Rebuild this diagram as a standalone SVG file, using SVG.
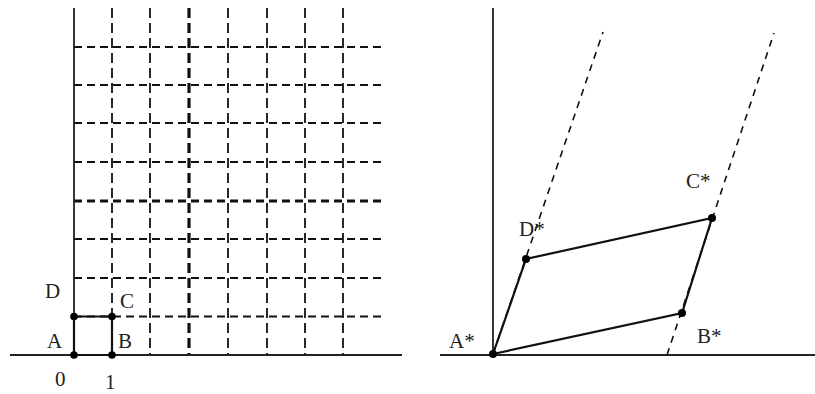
<svg xmlns="http://www.w3.org/2000/svg" width="815" height="394" viewBox="0 0 815 394">
<style>
.axis{stroke:#222;stroke-width:1.8;fill:none}
.gh{stroke:#111;stroke-width:1.8;stroke-dasharray:8,5;fill:none}
.gv{stroke:#111;stroke-width:1.8;stroke-dasharray:10,5;fill:none}
.gs{stroke:#111;stroke-width:1.6;stroke-dasharray:7,6;fill:none}
.thick{stroke-width:3.2}
.solid{stroke:#111;stroke-width:2.2;fill:none}
.dot{fill:#000}
.lbl{font-family:"Liberation Serif","Times New Roman",serif;font-size:21px;fill:#222}
</style>
<rect width="815" height="394" fill="#fff"/>
<g id="connectors">
  <path class="gh" d="M74 47H383M74 85H383M74 123H383M74 162H383M74 239H383M74 278H383M74 316.5H383"/>
  <path class="gh thick" d="M74 201H383"/>
  <path class="gv" d="M112 8V355M150 8V355M228 8V355M267 8V355M305 8V355M343 8V355"/>
  <path class="gv thick" d="M189 8V355"/>
  <path class="gs" d="M493 354L603 32M667 355L774 33"/>
</g>
<g id="axes-left">
  <path class="axis" d="M10 355H402M74 8V355"/>
</g>
<g id="axes-right">
  <path class="axis" d="M440 355H815M493 8V355"/>
</g>
<g id="square">
  <path class="solid" d="M74 355H112V316.5H74Z" stroke-width="2.6"/>
  <circle class="dot" cx="74" cy="355" r="3.8"/>
  <circle class="dot" cx="112" cy="355" r="3.8"/>
  <circle class="dot" cx="112" cy="316.5" r="3.8"/>
  <circle class="dot" cx="74" cy="316.5" r="3.8"/>
</g>
<g id="parallelogram">
  <path class="solid" d="M493 354L682 313L712 218L526 259Z"/>
  <circle class="dot" cx="493" cy="354" r="4"/>
  <circle class="dot" cx="682" cy="313" r="4"/>
  <circle class="dot" cx="712" cy="218" r="4"/>
  <circle class="dot" cx="526" cy="259" r="4"/>
</g>
<g id="labels">
  <text class="lbl" x="45" y="298">D</text>
  <text class="lbl" x="120" y="308">C</text>
  <text class="lbl" x="47" y="348">A</text>
  <text class="lbl" x="118" y="348">B</text>
  <text class="lbl" x="55" y="386">0</text>
  <text class="lbl" x="105" y="389">1</text>
  <text class="lbl" x="449" y="348">A*</text>
  <text class="lbl" x="697" y="343">B*</text>
  <text class="lbl" x="519" y="236">D*</text>
  <text class="lbl" x="686" y="188">C*</text>
</g>
</svg>
